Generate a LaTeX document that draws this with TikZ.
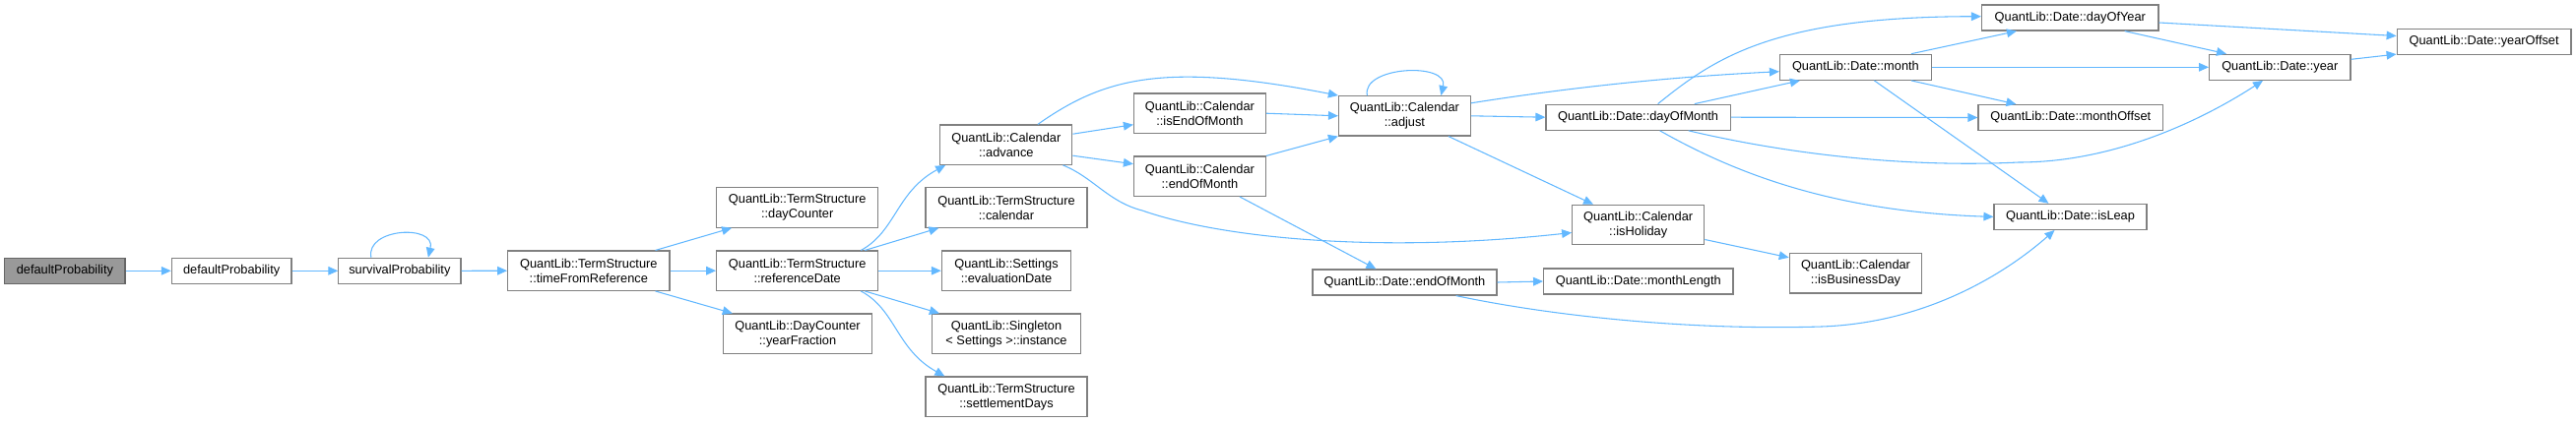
\documentclass[tikz,border=0pt]{standalone}
\usepackage{fontspec}
\setmainfont{Liberation Sans}
\usetikzlibrary{arrows.meta,calc}
\definecolor{edgec}{HTML}{63B8FF}
\definecolor{bordc}{HTML}{808080}
\definecolor{rootfill}{HTML}{999999}
\definecolor{rootbord}{HTML}{666666}
\begin{document}
\begin{tikzpicture}[x=0.75pt,y=-0.75pt,
  box/.style={draw=bordc,fill=white,line width=0.9pt,inner sep=0pt,align=center,
    font={\fontsize{9.6}{11.25}\selectfont},text=black},
  root/.style={box,fill=rootfill,draw=rootbord},
  nw/.style={minimum width=#1*0.75pt},
  one/.style={minimum height=26*0.75pt},
  two/.style={minimum height=40.3*0.75pt},
  conn/.style={draw=edgec,line width=0.8pt,-{Triangle[length=7.5pt,width=6.5pt]}}]
\useasboundingbox (0,0) rectangle (2616,429);
% nodes
\node[root,nw=122.3,one] (gp) at (65.9,275.3) {defaultProbability};
\node[box,nw=121.7,one] (dp) at (235.2,275.3) {defaultProbability};
\node[box,nw=124.1,one] (sp) at (405.9,275.3) {survivalProbability};
\node[box,nw=164.3,two] (tfr) at (597.8,275.2) {QuantLib::TermStructure\\::timeFromReference};
\node[box,nw=164,two] (dc) at (809.7,211) {QuantLib::TermStructure\\::dayCounter};
\node[box,nw=164,two] (rd) at (809.7,275.2) {QuantLib::TermStructure\\::referenceDate};
\node[box,nw=151.2,two] (yf) at (810,339.2) {QuantLib::DayCounter\\::yearFraction};
\node[box,nw=134.1,two] (adv) at (1021.8,147.2) {QuantLib::Calendar\\::advance};
\node[box,nw=164,two] (tcal) at (1022,211) {QuantLib::TermStructure\\::calendar};
\node[box,nw=131.3,two] (evd) at (1022,275.2) {QuantLib::Settings\\::evaluationDate};
\node[box,nw=151,two] (sing) at (1022,339.2) {QuantLib::Singleton\\< Settings >::instance};
\node[box,nw=164,two] (sdays) at (1022,403.2) {QuantLib::TermStructure\\::settlementDays};
\node[box,nw=133.8,two] (ieom) at (1218.4,115.2) {QuantLib::Calendar\\::isEndOfMonth};
\node[box,nw=133.8,two] (ceom) at (1218.4,179.2) {QuantLib::Calendar\\::endOfMonth};
\node[box,nw=187,one] (deom) at (1426.5,287) {QuantLib::Date::endOfMonth};
\node[box,nw=133.8,two] (adj) at (1426.4,117.8) {QuantLib::Calendar\\::adjust};
\node[box,nw=134,two] (ihol) at (1663.7,228.5) {QuantLib::Calendar\\::isHoliday};
\node[box,nw=192.3,one] (mlen) at (1663.8,286) {QuantLib::Date::monthLength};
\node[box,nw=187.2,one] (dom) at (1663.6,119.2) {QuantLib::Date::dayOfMonth};
\node[box,nw=153.8,one] (mon) at (1884.4,68.3) {QuantLib::Date::month};
\node[box,nw=134.4,two] (ibd) at (1884.5,277.8) {QuantLib::Calendar\\::isBusinessDay};
\node[box,nw=179.5,one] (doy) at (2102.3,18) {QuantLib::Date::dayOfYear};
\node[box,nw=187.5,one] (moff) at (2102.8,119.5) {QuantLib::Date::monthOffset};
\node[box,nw=155,one] (ileap) at (2102.5,220.4) {QuantLib::Date::isLeap};
\node[box,nw=143.4,one] (yr) at (2315.3,68.3) {QuantLib::Date::year};
\node[box,nw=176.8,one] (yoff) at (2522.6,42.5) {QuantLib::Date::yearOffset};
% connectors
\draw[conn] (gp.east) -- (dp.west);
\draw[conn] (dp.east) -- (sp.west);
\draw[conn] ($(sp.north)+(-29,0)$) .. controls +(-6,-30) and +(8,-34) .. ($(sp.north)+(29,0)$);
\draw[conn] (sp.east) -- (tfr.west);
\draw[conn] ($(tfr.north east)+(-15,0)$) -- ($(dc.south west)+(16,0)$);
\draw[conn] (tfr.east) -- (rd.west);
\draw[conn] ($(tfr.south east)+(-15,0)$) -- ($(yf.north west)+(10,0)$);
\draw[conn] ($(rd.north east)+(-18,0)$) .. controls (910,235) and (910,195) .. ($(adv.south west)+(6,0)$);
\draw[conn] ($(rd.north east)+(-14,0)$) -- ($(tcal.south west)+(14,0)$);
\draw[conn] (rd.east) -- (evd.west);
\draw[conn] ($(rd.south east)+(-14,0)$) -- ($(sing.north west)+(8,0)$);
\draw[conn] ($(rd.south east)+(-18,0)$) .. controls (910,315) and (910,355) .. ($(sdays.north west)+(20,0)$);
\draw[conn] ($(adv.north)+(32,0)$) .. controls (1120,80) and (1180,62) .. (adj.north west);
\draw[conn] ($(adv.east)+(0,-11)$) -- ($(ieom.west)+(0,11.5)$);
\draw[conn] ($(adv.east)+(0,11)$) -- ($(ceom.west)+(0,-12.5)$);
\coordinate (k1) at (1160,214);
\draw[conn] ($(adv.south east)+(-10,0)$) .. controls (1110,180) and (1125,205) .. (k1) .. controls (1240,242) and (1400,258) .. ($(ihol.west)+(0,8)$);
\draw[conn] (ieom.east) -- (adj.west);
\draw[conn] (ceom.north east) -- (adj.south west);
\draw[conn] ($(ceom.south east)+(-27,0)$) -- ($(deom.north west)+(65,0)$);
\draw[conn] ($(adj.north)+(-38,0)$) .. controls +(-6,-30) and +(8,-34) .. ($(adj.north)+(37,0)$);
\draw[conn] ($(adj.east)+(0,-13)$) .. controls (1600,88) and (1700,78) .. ($(mon.west)+(0,4.4)$);
\draw[conn] (adj.east) -- (dom.west);
\draw[conn] ($(adj.south east)+(-23,0)$) -- ($(ihol.north west)+(22,0)$);
\draw[conn] ($(dom.north)+(20,0)$) .. controls (1740,60) and (1800,17) .. ($(doy.west)+(0,-1.3)$);
\draw[conn] ($(dom.north east)+(-37,0)$) -- ($(mon.south west)+(21,0)$);
\draw[conn] (dom.east) -- (moff.west);
\coordinate (k2) at (2050,165);
\draw[conn] ($(dom.south)+(51,0)$) .. controls (1830,160) and (1950,170) .. (k2) .. controls (2160,165) and (2255,110) .. ($(yr.south west)+(55,0)$);
\draw[conn] ($(dom.south)+(22,0)$) .. controls (1760,175) and (1860,215) .. (ileap.west);
\draw[conn] ($(mon.north east)+(-21,0)$) -- ($(doy.south west)+(36,0)$);
\draw[conn] (mon.east) -- (yr.west);
\draw[conn] ($(mon.south east)+(-21,0)$) -- ($(moff.north west)+(39,0)$);
\draw[conn] ($(mon.south)+(19,0)$) -- ($(ileap.north)+(-22,0)$);
\draw[conn] ($(doy.south east)+(-35,0)$) -- ($(yr.north west)+(18,0)$);
\draw[conn] ($(doy.east)+(0,5)$) -- ($(yoff.west)+(0,-6)$);
\draw[conn] ($(yr.east)+(0,-8)$) -- ($(yoff.south west)+(0,-1)$);
\draw[conn] ($(ihol.east)+(0,15)$) -- ($(ibd.west)+(0,-16)$);
\draw[conn] (deom.east) -- (mlen.west);
\coordinate (k3) at (1850,332);
\draw[conn] ($(deom.south east)+(-42,0)$) .. controls (1580,322) and (1720,336) .. (k3) .. controls (1960,328) and (2040,275) .. ($(ileap.south)+(-16,0)$);
\end{tikzpicture}
\end{document}
